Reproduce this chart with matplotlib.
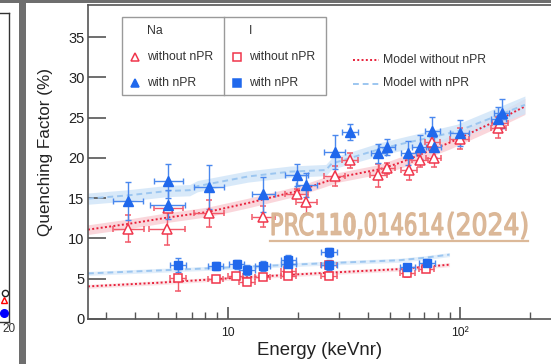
import numpy as np
import matplotlib
matplotlib.use('Agg')
import matplotlib.pyplot as plt
from matplotlib.patches import Rectangle, PathPatch
from matplotlib.lines import Line2D
from matplotlib.textpath import TextPath
from matplotlib.font_manager import FontProperties
from matplotlib.ticker import FixedLocator, FixedFormatter, LogLocator, NullFormatter
import matplotlib.transforms as mtransforms

plt.rcParams['font.family'] = ['Liberation Sans', 'DejaVu Sans']

# ---- data ----
# Na, with nPR (filled blue triangles)
na_npr_E = [3.73, 5.55, 5.50, 8.31, 14.2, 19.8, 21.8, 28.9, 33.6, 44.5, 48.3, 59.9, 67.3, 76.0, 76.8, 99.4, 146, 151]
na_npr_Q = [14.66, 17.19, 14.21, 16.39, 15.49, 17.88, 16.64, 20.78, 23.21, 20.57, 21.35, 20.66, 21.40, 23.33, 21.35, 23.13, 24.78, 25.53]
na_npr_dQ = [2.4, 2.1, 1.8, 2.7, 2.2, 1.4, 1.5, 2.1, 1.0, 1.2, 1.0, 1.5, 1.5, 1.8, 1.2, 1.6, 1.5, 1.8]
na_npr_dE = [0.16, 0.15, 0.19, 0.16, 0.12, 0.12, 0.11, 0.11, 0.08, 0.08, 0.08, 0.08, 0.08, 0.08, 0.08, 0.10, 0.08, 0.08]

# Na, without nPR (open red triangles)
na_E = [3.73, 5.47, 5.55, 8.31, 14.2, 19.8, 21.8, 28.9, 33.6, 44.5, 48.3, 60.3, 67.3, 76.0, 76.8, 99.4, 146, 148.6]
na_Q = [11.24, 11.24, 13.75, 13.13, 12.68, 15.58, 14.58, 17.76, 19.70, 17.84, 18.71, 18.50, 19.74, 21.97, 20.04, 22.39, 23.75, 24.37]
na_dQ = [1.7, 2.0, 0.3, 1.7, 1.3, 0.6, 1.5, 1.2, 0.9, 1.4, 0.7, 1.2, 0.8, 0.8, 1.2, 1.3, 1.3, 0.8]
na_dE = [0.17, 0.19, 0.15, 0.16, 0.12, 0.12, 0.11, 0.11, 0.08, 0.09, 0.08, 0.08, 0.08, 0.08, 0.08, 0.10, 0.08, 0.08]

# I, with nPR (filled blue squares)
i_npr_E = [6.09, 8.85, 10.9, 12.1, 14.1, 18.2, 18.2, 27.3, 27.3, 59.3, 71.8]
i_npr_Q = [6.69, 6.53, 6.78, 6.05, 6.60, 7.31, 6.80, 8.27, 6.73, 6.41, 6.90]
i_npr_dQ = [0.85, 0.5, 0.6, 0.6, 0.6, 0.7, 0.6, 0.6, 0.6, 0.4, 0.5]

# I, without nPR (open red squares)
i_E = [6.09, 8.85, 10.8, 12.1, 14.1, 18.2, 18.2, 27.3, 27.3, 59.3, 71.6]
i_Q = [5.04, 4.96, 5.33, 4.65, 5.24, 5.90, 5.35, 6.73, 5.39, 5.66, 6.26]
i_dQ = [1.6, 0.35, 0.4, 0.4, 0.4, 0.4, 0.3, 0.4, 0.4, 0.5, 0.4]
i_dE = 0.08

# model curves
na_mod_E = [2.5, 3.7, 5.5, 8.2, 12.2, 20, 30, 45, 55, 90, 148, 190]
na_mod_Q = [11.1, 11.8, 12.6, 13.3, 14.4, 15.9, 17.6, 18.6, 19.4, 21.9, 24.8, 26.4]
na_mod_band = [0.6, 0.6, 0.6, 0.6, 0.6, 0.6, 0.6, 0.6, 0.7, 0.8, 0.9, 1.0]
na_npr_mod_E = [2.5, 3.7, 5.5, 6.85, 7.4, 12.2, 18.5, 26.4, 28.0, 45, 55, 97, 190]
na_npr_mod_Q = [14.95, 15.35, 15.9, 16.0, 16.5, 17.7, 18.3, 18.5, 19.3, 21.1, 21.7, 23.3, 26.6]
na_npr_mod_band = [0.7, 0.7, 0.7, 0.7, 0.7, 0.7, 0.7, 0.7, 0.7, 0.8, 0.8, 0.9, 1.1]
i_mod_E = [2.5, 5, 12.2, 25, 55, 90]
i_mod_Q = [4.05, 4.5, 5.2, 5.7, 6.2, 6.75]
i_npr_mod_E = [2.5, 12.2, 25, 55, 70, 90]
i_npr_mod_Q = [5.66, 6.5, 6.9, 7.3, 7.6, 8.0]
i_mod_band = 0.25

# cropped neighbour panel on the left (legend fragment)
left_x = [19.2, 19.1, 19.1]
left_y = [29, 22, 9]

W, H = 551, 364
RED = '#f0364c'
BLUE = '#2068ec'

def fx(x):
    return x / W

def fy(y):
    return 1 - y / H

fig = plt.figure(figsize=(W / 100, H / 100), dpi=100, facecolor='#6e6e6e')

# white panels
fig.add_artist(Rectangle((fx(0), fy(364)), fx(19), 361 / H, transform=fig.transFigure,
                         facecolor='white', edgecolor='none', zorder=-5))
fig.add_artist(Rectangle((fx(26), fy(364)), fx(W - 26), 361 / H, transform=fig.transFigure,
                         facecolor='white', edgecolor='none', zorder=-5))

# left, mostly cropped chart
axl = fig.add_axes([fx(-100), fy(322), fx(109), (322 - 13) / H])
axl.set_xlim(0, 20)
axl.set_ylim(0, 309)
for s in axl.spines.values():
    s.set_color('#333333')
    s.set_linewidth(1)
axl.set_yticks([])
axl.set_xticks([20])
axl.set_xticklabels(['20'], fontsize=8.5)
axl.tick_params(axis='x', length=0, pad=1, colors='#333333')
axl.plot(left_x[0], left_y[0], 'o', mfc='none', mec='#222222', ms=4.5, mew=1)
axl.plot(left_x[1], left_y[1], '^', mfc='none', mec='red', ms=5, mew=1)
axl.plot(left_x[2], left_y[2], 'o', color='blue', ms=5.5)

# main chart
x_right = 88 + 232.3 * (np.log10(300) - np.log10(2.5))
ax = fig.add_axes([fx(88), fy(319), (x_right - 88) / W, (319 - 5) / H])
ax.set_xscale('log')
ax.set_xlim(2.5, 300)
ax.set_ylim(0, 39)

# model bands and lines
e = np.array(na_mod_E); q = np.array(na_mod_Q); b = np.array(na_mod_band)
ax.fill_between(e, q - b, q + b, color='#f9c9cf', alpha=0.75, lw=0, zorder=1)
e2 = np.array(na_npr_mod_E); q2 = np.array(na_npr_mod_Q); b2 = np.array(na_npr_mod_band)
ax.fill_between(e2, q2 - b2, q2 + b2, color='#cfe4f8', alpha=0.8, lw=0, zorder=1)
ax.fill_between(i_mod_E, np.array(i_mod_Q) - i_mod_band, np.array(i_mod_Q) + i_mod_band,
                color='#f9c9cf', alpha=0.5, lw=0, zorder=1)
ax.fill_between(i_npr_mod_E, np.array(i_npr_mod_Q) - i_mod_band, np.array(i_npr_mod_Q) + i_mod_band,
                color='#cfe4f8', alpha=0.6, lw=0, zorder=1)
ax.plot(na_mod_E, na_mod_Q, ls=(0, (1, 1.2)), color='#e8203a', lw=1.4, zorder=2)
ax.plot(i_mod_E, i_mod_Q, ls=(0, (1, 1.2)), color='#e8203a', lw=1.4, zorder=2)
ax.plot(na_npr_mod_E, na_npr_mod_Q, ls=(0, (3, 2)), color='#9cc6f0', lw=1.4, zorder=2)
ax.plot(i_npr_mod_E, i_npr_mod_Q, ls=(0, (3, 2)), color='#9cc6f0', lw=1.4, zorder=2)

def xerrs(E, frac):
    E = np.array(E)
    frac = np.broadcast_to(np.array(frac, dtype=float), E.shape)
    return [E - E / (1 + frac), E * frac]

ekw = dict(capsize=2, elinewidth=1, capthick=1, lw=0, zorder=3)
ax.errorbar(na_E, na_Q, yerr=na_dQ, xerr=xerrs(na_E, na_dE), fmt='^', ms=7,
            mfc='white', mec=RED, mew=1.1, ecolor='#f25a6a', **ekw)
ax.errorbar(i_E, i_Q, yerr=i_dQ, xerr=xerrs(i_E, i_dE), fmt='s', ms=6,
            mfc='white', mec=RED, mew=1.1, ecolor='#f25a6a', **ekw)
ax.errorbar(na_npr_E, na_npr_Q, yerr=na_npr_dQ, xerr=xerrs(na_npr_E, na_npr_dE), fmt='^', ms=7,
            color=BLUE, ecolor='#4a88ee', **ekw)
ax.errorbar(i_npr_E, i_npr_Q, yerr=i_npr_dQ, xerr=xerrs(i_npr_E, i_dE), fmt='s', ms=6,
            color=BLUE, ecolor='#4a88ee', **ekw)

# axes styling
for side in ['left', 'bottom', 'top', 'right']:
    ax.spines[side].set_color('#555555')
    ax.spines[side].set_linewidth(1.2)
ax.set_yticks(range(0, 40, 5))
ax.tick_params(axis='y', direction='in', length=13, width=1.2, colors='#555555',
               labelcolor='#222222', labelsize=10.5, pad=2.5)
ax.xaxis.set_major_locator(FixedLocator([10, 100]))
ax.xaxis.set_major_formatter(FixedFormatter(['10', '10²']))
ax.xaxis.set_minor_locator(LogLocator(base=10, subs=np.arange(2, 10), numticks=20))
ax.xaxis.set_minor_formatter(NullFormatter())
ax.tick_params(axis='x', which='major', direction='in', length=9, width=1.2, colors='#555555',
               labelcolor='#222222', labelsize=8.8, pad=6)
ax.tick_params(axis='x', which='minor', direction='in', length=5, width=1.0, colors='#555555')
ax.tick_params(top=False, right=False, which='both')

ax.set_xlabel('Energy (keVnr)', fontsize=13.4, color='#222222')
ax.set_ylabel('Quenching Factor (%)', fontsize=12.3, color='#222222')
xw = x_right - 88
ax.xaxis.set_label_coords((320 - 88) / xw, -(342 - 319) / 314)
ax.yaxis.set_label_coords((53 - 88) / xw, (319 - 152.5) / 314)

# framed legend for data
fig.add_artist(Rectangle((fx(122), fy(95)), fx(326 - 122), (95 - 17) / H, transform=fig.transFigure,
                         facecolor='white', edgecolor='#9a9a9a', lw=1, zorder=5))
fig.add_artist(Line2D([fx(224), fx(224)], [fy(17), fy(95)], transform=fig.transFigure,
                      color='#9a9a9a', lw=1, zorder=6))
lkw = dict(fontsize=8.8, color='#333333', va='center', ha='left', zorder=7)
fig.text(fx(147), fy(31), 'Na', **lkw)
fig.text(fx(147), fy(57), 'without nPR', **lkw)
fig.text(fx(147), fy(82.5), 'with nPR', **lkw)
fig.text(fx(249), fy(31), 'I', **lkw)
fig.text(fx(249), fy(57), 'without nPR', **lkw)
fig.text(fx(249), fy(82.5), 'with nPR', **lkw)
for xm, ym, mk, filled in [(135, 57, '^', False), (135, 82.5, '^', True),
                           (237, 57, 's', False), (237, 82.5, 's', True)]:
    fig.add_artist(Line2D([fx(xm)], [fy(ym)], transform=fig.transFigure, marker=mk,
                          ms=6 if mk == '^' else 5.5, mfc=BLUE if filled else 'white',
                          mec=BLUE if filled else RED, mew=1.1, zorder=7))

# model legend
fig.add_artist(Line2D([fx(353), fx(379)], [fy(60), fy(60)], transform=fig.transFigure,
                      ls=(0, (1, 1.2)), color='#e8203a', lw=1.4))
fig.add_artist(Line2D([fx(353), fx(379)], [fy(83.5), fy(83.5)], transform=fig.transFigure,
                      ls=(0, (3, 2)), color='#9cc6f0', lw=1.4))
fig.text(fx(383), fy(60), 'Model without nPR', **lkw)
fig.text(fx(383), fy(83.5), 'Model with nPR', **lkw)

# watermark
TAN = '#dab594'
base_y = H - 235
cap = 22
for txt, x0, x1, wt, edge in [('PRC', 272, 313, 'normal', 0.9), ('110,', 317, 362, 'bold', 0.5),
                              ('014614', 365, 443, 'normal', 0.9), ('(2024)', 448, 527, 'normal', 0.9)]:
    fp = FontProperties(family='DejaVu Sans', weight=wt)
    tp = TextPath((0, 0), txt, size=cap / 0.729, prop=fp)
    bb = tp.get_extents()
    sx = (x1 - x0) / bb.width
    tr = (mtransforms.Affine2D().translate(-bb.x0, 0).scale(sx, 1).translate(x0, base_y)
          .scale(1 / W, 1 / H) + fig.transFigure)
    fig.add_artist(PathPatch(tp, transform=tr, facecolor=TAN, edgecolor=TAN, lw=edge,
                             alpha=0.95, zorder=8))
fig.add_artist(Line2D([fx(270), fx(528)], [fy(240.5), fy(240.5)], transform=fig.transFigure,
                      color=TAN, lw=1.6, alpha=0.95, zorder=8))

fig.savefig('out.png', dpi=100, facecolor=fig.get_facecolor())
